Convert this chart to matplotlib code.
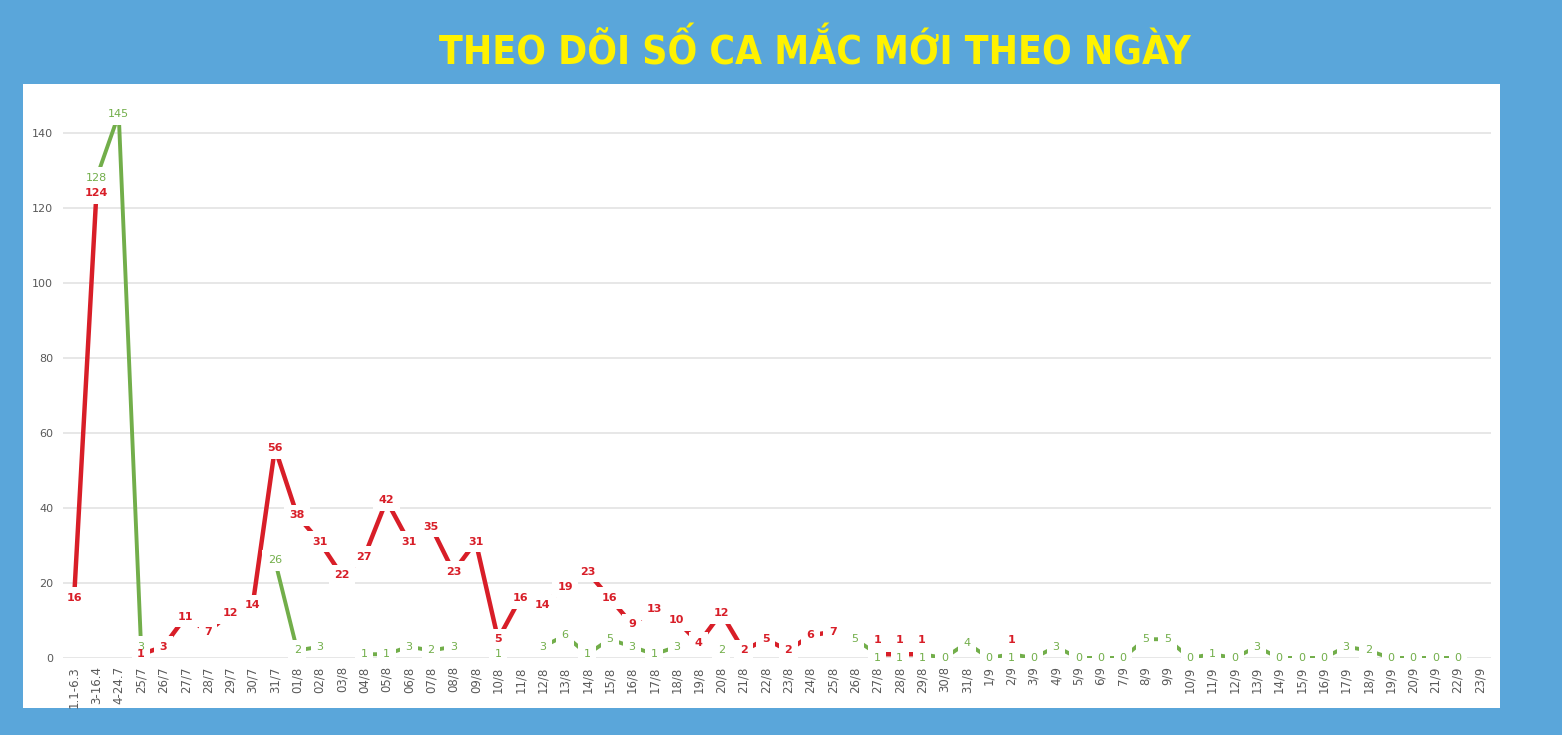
import matplotlib
matplotlib.use("Agg")
import matplotlib.pyplot as plt
import numpy as np
from matplotlib.patches import Rectangle

nan = np.nan

# --------- DATA -----------------
days = ['1.1-6.3', '3-16.4', '4-24.7', '25/7', '26/7', '27/7', '28/7', '29/7', '30/7', '31/7',
        '01/8', '02/8', '03/8', '04/8', '05/8', '06/8', '07/8', '08/8', '09/8', '10/8',
        '11/8', '12/8', '13/8', '14/8', '15/8', '16/8', '17/8', '18/8', '19/8', '20/8',
        '21/8', '22/8', '23/8', '24/8', '25/8', '26/8', '27/8', '28/8', '29/8', '30/8',
        '31/8', '1/9', '2/9', '3/9', '4/9', '5/9', '6/9', '7/9', '8/9', '9/9',
        '10/9', '11/9', '12/9', '13/9', '14/9', '15/9', '16/9', '17/9', '18/9', '19/9',
        '20/9', '21/9', '22/9', '23/9']

red_cases = [16, 124, nan, 1, 3, 11, 7, 12, 14, 56,
             38, 31, 22, 27, 42, 31, 35, 23, 31, 5,
             16, 14, 19, 23, 16, 9, 13, 10, 4, 12,
             2, 5, 2, 6, 7, nan, 1, 1, 1, nan,
             nan, nan, 1, nan, nan, nan, nan, nan, nan, nan,
             nan, nan, nan, nan, nan, nan, nan, nan, nan, nan,
             nan, nan, nan, nan]

green_cases = [nan, 128, 145, 3, nan, nan, nan, nan, nan, 26,
               2, 3, nan, 1, 1, 3, 2, 3, nan, 1,
               nan, 3, 6, 1, 5, 3, 1, 3, nan, 2,
               nan, nan, nan, nan, nan, 5, 1, 1, 1, 0,
               4, 0, 1, 0, 3, 0, 0, 0, 5, 5,
               0, 1, 0, 3, 0, 0, 0, 3, 2, 0,
               0, 0, 0, nan]

blue_bg = '#5AA6DA'
red = '#D81E28'
green = '#72AE4A'
gray = '#595959'

fig = plt.figure(figsize=(15.62, 7.35), dpi=100, facecolor=blue_bg)
fig.patches.append(Rectangle((0.0147, 0.0367), 0.9456, 0.849, transform=fig.transFigure,
                             facecolor='white', edgecolor='none', zorder=-1))

fig.text(0.522, 0.930, 'THEO DÕI SỐ CA MẮC MỚI THEO NGÀY', color='#FFF200',
         fontsize=28, fontweight='bold', fontstretch='condensed', ha='center', va='center',
         family=['Liberation Sans Narrow', 'DejaVu Sans'])

ax = fig.add_axes([0.0403, 0.1048, 0.9143, 0.7652])
ax.set_facecolor('none')

x = np.arange(len(days))
ax.plot(x, red_cases, color=red, lw=3.2, zorder=3, solid_capstyle='butt')
ax.plot(x, green_cases, color=green, lw=2.8, zorder=2, solid_capstyle='butt')


def label(i, v, dy, color, weight):
    # white box under everything else hides the line, text itself drawn on top
    kw = dict(xytext=(0, dy), textcoords='offset points', ha='center', va='center',
              fontsize=8, fontweight=weight)
    box = ax.annotate(f'{int(v)}', (i, v), color='none', zorder=4,
                      bbox=dict(boxstyle='square,pad=0.5', fc='white', ec='none'), **kw)
    box.set_clip_on(True)
    ax.annotate(f'{int(v)}', (i, v), color=color, zorder=7, **kw)


for i in range(len(days)):
    r, g = red_cases[i], green_cases[i]
    both = not np.isnan(r) and not np.isnan(g) and abs(r - g) < 1
    if not np.isnan(g):
        label(i, g, -3 if both else 0, green, 'normal')
    if not np.isnan(r):
        label(i, r, 10 if both else 0, red, 'bold')

ax.set_xlim(-0.5, len(days) - 0.5)
ax.set_ylim(0, 150)
ax.set_yticks(range(0, 141, 20))
ax.set_xticks(x)
ax.set_xticklabels(days, rotation=90, fontsize=8.5, color=gray)
ax.tick_params(axis='y', labelsize=8, colors=gray, length=0, pad=7)
ax.tick_params(axis='x', length=0, pad=6)
ax.grid(axis='y', color='#E3E3E3', lw=1.2, zorder=0)
ax.set_axisbelow(True)
for s in ax.spines.values():
    s.set_visible(False)

fig.savefig('out.png', dpi=100, facecolor=blue_bg)
